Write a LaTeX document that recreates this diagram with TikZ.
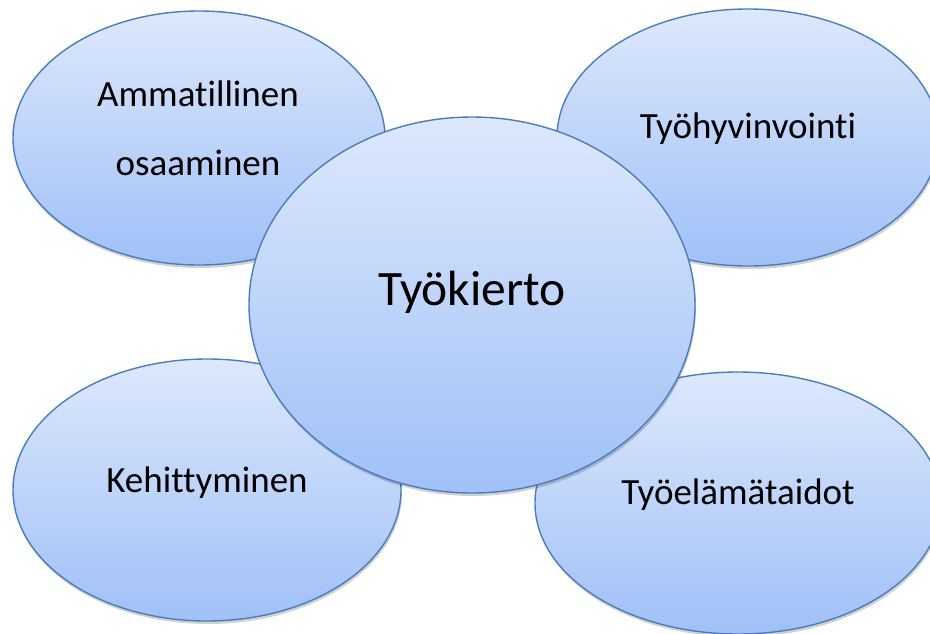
\documentclass[tikz,border=0pt]{standalone}
\usepackage{fontspec}
\setmainfont{Carlito}[Ligatures={NoCommon}]
\usetikzlibrary{shapes.geometric,shadows}
\definecolor{topc}{HTML}{DDE8FC}
\definecolor{botc}{HTML}{A0C0F7}
\definecolor{edgec}{HTML}{4A7EBB}
\tikzset{
  bubble/.style={ellipse, draw=edgec, line width=1.4pt, top color=topc, bottom color=botc, inner sep=0pt,
    drop shadow={shadow xshift=1pt, shadow yshift=-3pt, opacity=0.18, fill=black}},
  lbl/.style={anchor=base, font=\fontsize{37}{44}\selectfont, text=black, inner sep=0pt},
  biglbl/.style={anchor=base, font=\fontsize{49.5}{56}\selectfont, text=black, inner sep=0pt}
}
\begin{document}
\begin{tikzpicture}[x=1pt,y=-1pt]
\useasboundingbox (0,0) rectangle (930,633);
\fill[white] (0,0) rectangle (930,633);
\node[bubble, minimum width=372pt, minimum height=254pt] (e1) at (199,138) {};
\node[bubble, minimum width=382pt, minimum height=257pt] (e2) at (748,137.5) {};
\node[bubble, minimum width=388pt, minimum height=262pt] (e3) at (207,490) {};
\node[bubble, minimum width=406pt, minimum height=262pt] (e4) at (738,503) {};
\node[bubble, minimum width=446pt, minimum height=376pt] (e0) at (472,305) {};
\node[lbl] (t1a) at (198,106) {Ammatillinen};
\node[lbl] (t1b) at (198,175) {osaaminen};
\node[lbl] (t2) at (748,138) {Työhyvinvointi};
\node[lbl] (t3) at (207,492) {Kehittyminen};
\node[lbl] (t4) at (738,504) {Työelämätaidot};
\node[biglbl] (t0) at (472,305) {Työkierto};
\end{tikzpicture}
\end{document}
